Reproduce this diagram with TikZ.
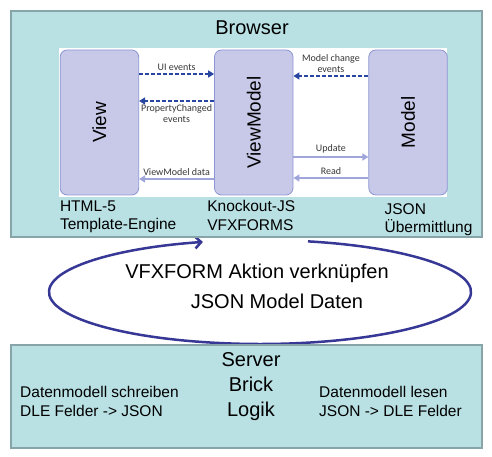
\documentclass[tikz,border=0pt]{standalone}
\usepackage{fontspec}
\setmainfont{Liberation Sans}
\newfontfamily\labelfont{Carlito}
\usetikzlibrary{positioning, arrows.meta}

\definecolor{tierfill}{RGB}{185,224,227}
\definecolor{tierline}{RGB}{135,165,168}
\definecolor{partfill}{RGB}{200,200,232}
\definecolor{partline}{RGB}{140,150,210}
\definecolor{eventblue}{RGB}{40,70,160}
\definecolor{datalav}{RGB}{160,165,220}
\definecolor{lbltext}{RGB}{55,55,55}
\definecolor{loopblue}{RGB}{55,55,150}

\begin{document}
\begin{tikzpicture}[x=1pt, y=1pt,
  tier/.style={draw=tierline, line width=2pt, fill=tierfill, minimum width=471pt, inner sep=0pt},
  part/.style={draw=partline, line width=0.8pt, fill=partfill, rounded corners=7pt, minimum width=78.5pt, minimum height=145pt, inner sep=0pt, font=\fontsize{19}{22}\selectfont},
  title/.style={font=\fontsize{20}{25}\selectfont, align=center, inner sep=0pt},
  caption/.style={font=\fontsize{15.5}{18.5}\selectfont, align=left, inner sep=0pt},
  event/.style={draw=eventblue, line width=1.8pt, dash pattern=on 4pt off 2pt, -{Triangle[length=6pt, width=7pt]}},
  data/.style={draw=datalav, line width=1.5pt, -{Triangle[length=6pt, width=7pt]}},
  lbl/.style={font=\labelfont\fontsize{10}{11}\selectfont, text=lbltext, align=center, inner sep=3pt},
  loopline/.style={draw=loopblue, line width=2.5pt, -{Straight Barb[length=6pt, width=12pt]}}]
  \useasboundingbox (0,0) rectangle (492,457);

  % The loop between browser and server lies under both tiers.
  \coordinate (loop) at (260,165);
  \draw[loopline] ([shift={(76.85:211pt and 52pt)}]loop) arc[start angle=76.85, end angle=-254.3, x radius=211pt, y radius=52pt];
  \node[title] (action) at (257,184) {VFXFORM Aktion verknüpfen};
  \node[title] (jsondata) at (277,156) {JSON Model Daten};

  % Browser tier with the MVVM panel
  \node[tier, minimum height=226pt] (browser) at (246.5,333) {};
  \node[title] (browsertitle) at (252,429) {Browser};
  \node[fill=white, minimum width=388pt, minimum height=149pt, inner sep=0pt] (panel) at (253,334.5) {};
  \node[part, right=1pt of panel.west] (view) {\rotatebox{90}{View}};
  \node[part, right=75pt of view] (vm) {\rotatebox{90}{ViewModel}};
  \node[part, right=75pt of vm] (model) {\rotatebox{90}{Model}};

  \draw[event] ([yshift=48.5pt]view.east) -- node[lbl, above] {UI events} ([yshift=48.5pt]vm.west);
  \draw[event] ([yshift=21.5pt]vm.west) -- node[lbl, below] {PropertyChanged\\events} ([yshift=21.5pt]view.east);
  \draw[event] ([yshift=46.5pt]model.west) -- node[lbl, above] {Model change\\events} ([yshift=46.5pt]vm.east);
  \draw[data] ([yshift=-34.5pt]vm.east) -- node[lbl, above] {Update} ([yshift=-34.5pt]model.west);
  \draw[data] ([yshift=-55.5pt]model.west) -- node[lbl, above] {Read} ([yshift=-55.5pt]vm.east);
  \draw[data] ([yshift=-56.5pt]vm.west) -- node[lbl, above] {ViewModel data} ([yshift=-56.5pt]view.east);

  \node[caption, anchor=north west] (html) at ([yshift=-5pt]view.south west) {HTML-5\\Template-Engine};
  \node[caption, anchor=north west] (knockout) at ([xshift=-7pt, yshift=-5pt]vm.south west) {Knockout-JS\\VFXFORMS};
  \node[caption, anchor=north west] (json) at ([xshift=16pt, yshift=-8pt]model.south west) {JSON\\Übermittlung};

  % Server tier
  \node[tier, minimum height=103pt] (server) at (246.5,60.5) {};
  \node[title] (logic) at (251,70) {Server\\Brick\\Logik};
  \node[caption, anchor=west] (write) at (20,55.5) {Datenmodell schreiben\\DLE Felder -> JSON};
  \node[caption, anchor=west] (readdata) at (319,55.5) {Datenmodell lesen\\JSON -> DLE Felder};
\end{tikzpicture}
\end{document}
